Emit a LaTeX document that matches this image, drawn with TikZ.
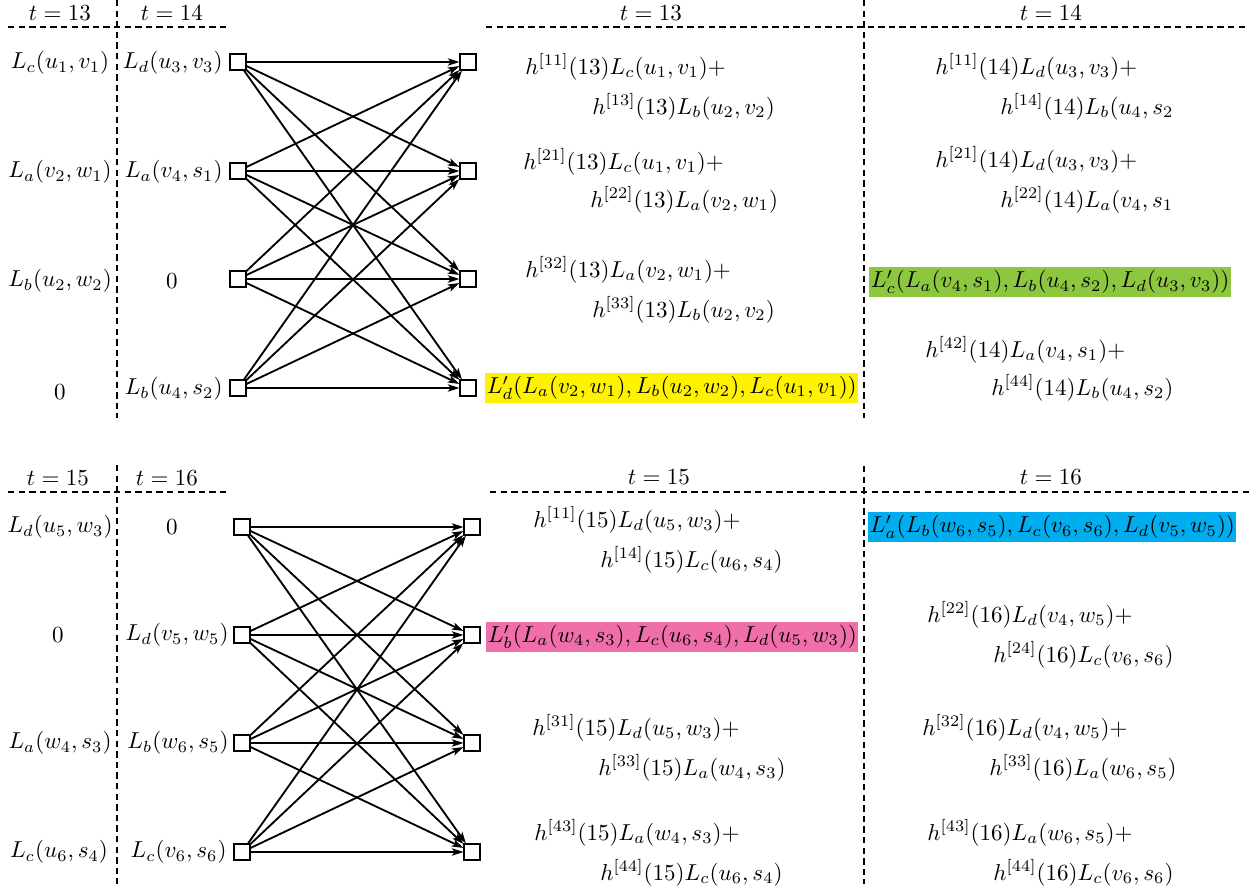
\documentclass[tikz,border=0pt]{standalone}
\usetikzlibrary{arrows.meta}
\definecolor{hyellow}{RGB}{255,242,0}
\definecolor{hgreen}{RGB}{141,198,63}
\definecolor{hblue}{RGB}{0,174,239}
\definecolor{hpink}{RGB}{240,110,170}
\begin{document}
\begin{tikzpicture}[x=0.434pt,y=-0.434pt,
  dline/.style={dash pattern=on 2.8pt off 1.8pt, line width=0.55pt},
  sq/.style={draw, line width=0.55pt, minimum size=6.9pt, inner sep=0pt, fill=white},
  arr/.style={-{Stealth[length=5pt,width=3.2pt,inset=1.2pt]}, line width=0.8pt},
  txt/.style={inner sep=0pt, anchor=west},
  ctxt/.style={inner sep=0pt},
  rtxt/.style={inner sep=0pt, anchor=east},
  hl/.style={inner xsep=0.6pt, inner ysep=1.3pt, anchor=west}]
\path[use as bounding box] (0,0) rectangle (1249,890);

% ================= TOP PANEL =================
\node[ctxt] (ht13) at (60,13) {$t=13$};
\node[ctxt] (ht14) at (172,13) {$t=14$};
\coordinate (tl1) at (8,27); \coordinate (tl2) at (227,27);
\draw[dline] (tl1) -- (tl2);
\coordinate (tv1) at (117,0); \coordinate (tv2) at (117,418);
\draw[dline] (tv1) -- (tv2);

\node[ctxt] (ta1) at (60,63) {$L_c(u_1,v_1)$};
\node[ctxt] (ta2) at (60,172) {$L_a(v_2,w_1)$};
\node[ctxt] (ta3) at (60,281) {$L_b(u_2,w_2)$};
\node[ctxt] (ta4) at (60,392) {$0$};

\node[rtxt] (tb1) at (223,63) {$L_d(u_3,v_3)$};
\node[rtxt] (tb2) at (223,172) {$L_a(v_4,s_1)$};
\node[ctxt] (tb3) at (172,281) {$0$};
\node[rtxt] (tb4) at (223,389) {$L_b(u_4,s_2)$};

\node[sq] (TL1) at (238,62) {};
\node[sq] (TL2) at (238,171) {};
\node[sq] (TL3) at (238,279) {};
\node[sq] (TL4) at (238,388) {};
\node[sq] (TR1) at (468,62) {};
\node[sq] (TR2) at (468,171) {};
\node[sq] (TR3) at (468,279) {};
\node[sq] (TR4) at (468,388) {};
\foreach \i in {1,...,4}{\foreach \j in {1,...,4}{\draw[arr] (TL\i) -- (TR\j);}}

\node[ctxt] (hr13) at (651,13) {$t=13$};
\node[ctxt] (hr14) at (1051,13) {$t=14$};
\coordinate (rl1) at (486,27); \coordinate (rl2) at (1246,27);
\draw[dline] (rl1) -- (rl2);
\coordinate (rv1) at (864,0); \coordinate (rv2) at (864,418);
\draw[dline] (rv1) -- (rv2);

\node[txt] (m1a) at (525,67) {$h^{[11]}(13)L_c(u_1,v_1)+$};
\node[txt] (m1b) at (592,107) {$h^{[13]}(13)L_b(u_2,v_2)$};
\node[txt] (m2a) at (523,162) {$h^{[21]}(13)L_c(u_1,v_1)+$};
\node[txt] (m2b) at (590,200) {$h^{[22]}(13)L_a(v_2,w_1)$};
\node[txt] (m3a) at (525,270) {$h^{[32]}(13)L_a(v_2,w_1)+$};
\node[txt] (m3b) at (592,310) {$h^{[33]}(13)L_b(u_2,v_2)$};
\node[hl, fill=hyellow] (m4) at (485,388) {$L'_d(L_a(v_2,w_1),L_b(u_2,w_2),L_c(u_1,v_1))$};

\node[txt] (n1a) at (935,67) {$h^{[11]}(14)L_d(u_3,v_3)+$};
\node[txt] (n1b) at (1000,107) {$h^{[14]}(14)L_b(u_4,s_2$};
\node[txt] (n2a) at (935,160) {$h^{[21]}(14)L_d(u_3,v_3)+$};
\node[txt] (n2b) at (1000,200) {$h^{[22]}(14)L_a(v_4,s_1$};
\node[hl, fill=hgreen] (n3) at (869,282) {$L'_c(L_a(v_4,s_1),L_b(u_4,s_2),L_d(u_3,v_3))$};
\node[txt] (n4a) at (925,350) {$h^{[42]}(14)L_a(v_4,s_1)+$};
\node[txt] (n4b) at (991,388) {$h^{[44]}(14)L_b(u_4,s_2)$};

% ================= BOTTOM PANEL =================
\node[ctxt] (ht15) at (58,478) {$t=15$};
\node[ctxt] (ht16) at (167,478) {$t=16$};
\coordinate (bl1) at (8,492); \coordinate (bl2) at (227,492);
\draw[dline] (bl1) -- (bl2);
\coordinate (bv1) at (117,465); \coordinate (bv2) at (117,884);
\draw[dline] (bv1) -- (bv2);

\node[ctxt] (ba1) at (60,527) {$L_d(u_5,w_3)$};
\node[ctxt] (ba2) at (58,635) {$0$};
\node[ctxt] (ba3) at (60,743) {$L_a(w_4,s_3)$};
\node[ctxt] (ba4) at (59,852) {$L_c(u_6,s_4)$};

\node[ctxt] (bb1) at (172,527) {$0$};
\node[rtxt] (bb2) at (229,635) {$L_d(v_5,w_5)$};
\node[rtxt] (bb3) at (229,743) {$L_b(w_6,s_5)$};
\node[rtxt] (bb4) at (227,852) {$L_c(v_6,s_6)$};

\node[sq] (BL1) at (242,527) {};
\node[sq] (BL2) at (242,635) {};
\node[sq] (BL3) at (242,743) {};
\node[sq] (BL4) at (242,852) {};
\node[sq] (BR1) at (472,527) {};
\node[sq] (BR2) at (472,635) {};
\node[sq] (BR3) at (472,743) {};
\node[sq] (BR4) at (472,852) {};
\foreach \i in {1,...,4}{\foreach \j in {1,...,4}{\draw[arr] (BL\i) -- (BR\j);}}

\node[ctxt] (hr15) at (659,477) {$t=15$};
\node[ctxt] (hr16) at (1051,477) {$t=16$};
\coordinate (sl1) at (490,492); \coordinate (sl2) at (1249,492);
\draw[dline] (sl1) -- (sl2);
\coordinate (sv1) at (864,466); \coordinate (sv2) at (864,884);
\draw[dline] (sv1) -- (sv2);

\node[txt] (p1a) at (533,520) {$h^{[11]}(15)L_d(u_5,w_3)+$};
\node[txt] (p1b) at (600,560) {$h^{[14]}(15)L_c(u_6,s_4)$};
\node[hl, fill=hpink] (p2) at (486,637) {$L'_b(L_a(w_4,s_3),L_c(u_6,s_4),L_d(u_5,w_3))$};
\node[txt] (p3a) at (532,728) {$h^{[31]}(15)L_d(u_5,w_3)+$};
\node[txt] (p3b) at (598,768) {$h^{[33]}(15)L_a(w_4,s_3)$};
\node[txt] (p4a) at (534,833) {$h^{[43]}(15)L_a(w_4,s_3)+$};
\node[txt] (p4b) at (600,873) {$h^{[44]}(15)L_c(u_6,s_4)$};

\node[hl, fill=hblue] (q1) at (868,527) {$L'_a(L_b(w_6,s_5),L_c(v_6,s_6),L_d(v_5,w_5))$};
\node[txt] (q2a) at (927,615) {$h^{[22]}(16)L_d(v_4,w_5)+$};
\node[txt] (q2b) at (993,655) {$h^{[24]}(16)L_c(v_6,s_6)$};
\node[txt] (q3a) at (922,728) {$h^{[32]}(16)L_d(v_4,w_5)+$};
\node[txt] (q3b) at (989,768) {$h^{[33]}(16)L_a(w_6,s_5)$};
\node[txt] (q4a) at (927,833) {$h^{[43]}(16)L_a(w_6,s_5)+$};
\node[txt] (q4b) at (993,873) {$h^{[44]}(16)L_c(v_6,s_6)$};
\end{tikzpicture}
\end{document}
